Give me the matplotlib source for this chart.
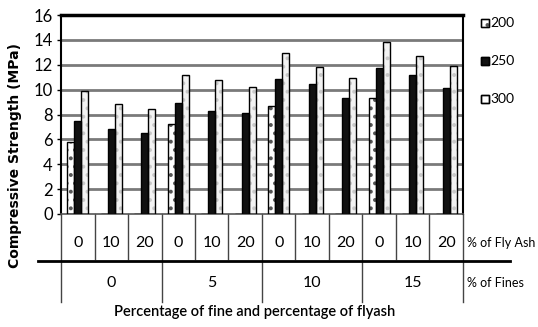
import numpy as np
import matplotlib.pyplot as plt
from matplotlib.patches import Rectangle

# data
fly_ash = ['0', '10', '20'] * 4
fines = ['0', '5', '10', '15']
s200 = [5.75, 0, 0, 7.2, 0, 0, 8.7, 0, 0, 9.35, 0, 0]
s250 = [7.5, 6.87, 6.5, 8.96, 8.25, 8.1, 10.88, 10.45, 9.36, 11.7, 11.2, 10.1]
s300 = [9.87, 8.85, 8.48, 11.18, 10.8, 10.22, 12.95, 11.78, 10.95, 13.8, 12.7, 11.87]
series = ['200', '250', '300']

plt.rcParams['font.family'] = ['Lato', 'DejaVu Sans']
plt.rcParams['hatch.linewidth'] = 1.6

W, H = 538, 327
fig = plt.figure(figsize=(W / 100, H / 100), dpi=100)
ax = fig.add_axes([61 / W, 1 - 214 / H, 402 / W, 199 / H])

x = np.arange(len(fly_ash))
bw = 0.21

# gridlines
for g in range(2, 16, 2):
    ax.axhline(g, color='#7a7a7a', lw=2.0, zorder=0)

# 200: white with dark dots
ax.bar(x - bw, s200, bw, color='white', edgecolor='#555555', hatch='..', lw=0, zorder=2)
ax.bar(x - bw, s200, bw, fill=False, edgecolor='black', lw=1.0, zorder=3)
# 250: black
ax.bar(x, s250, bw, color='#111111', edgecolor='black', lw=1.0, zorder=3)
# 300: light grey with light dots
ax.bar(x + bw, s300, bw, color='#f2f2f2', edgecolor='#c8c8c8', hatch='..', lw=0, zorder=2)
ax.bar(x + bw, s300, bw, fill=False, edgecolor='black', lw=1.0, zorder=3)

ax.set_xlim(-0.5, 11.5)
ax.set_ylim(0, 16)
ax.set_yticks(range(0, 17, 2))
ax.tick_params(axis='y', labelsize=12, length=3, width=1, pad=3)
ax.set_xticks([])
ax.spines['top'].set_linewidth(2.5)
ax.spines['left'].set_linewidth(1.5)
ax.spines['right'].set_linewidth(1.5)
ax.spines['bottom'].set_linewidth(1.2)
ax.spines['bottom'].set_color('#555555')

# two level category axis below the plot
tr = ax.get_xaxis_transform()
row_line = -0.236
for b in np.arange(-0.5, 12, 1):
    if (b + 0.5) % 3 == 0:
        ax.plot([b, b], [0, -0.44], color='#444444', lw=1, transform=tr, clip_on=False)
    else:
        ax.plot([b, b], [0, -0.225], color='#444444', lw=1, transform=tr, clip_on=False)
ax.plot([-1.2, 12.9], [row_line, row_line], color='black', lw=2, transform=tr, clip_on=False)
for i, lab in enumerate(fly_ash):
    ax.text(i, -0.146, lab, transform=tr, ha='center', va='center', fontsize=11.5)
for j, lab in enumerate(fines):
    ax.text(3 * j + 1, -0.347, lab, transform=tr, ha='center', va='center', fontsize=11.5)
fig.text(467 / W, 1 - 243 / H, '% of Fly Ash', ha='left', va='center', fontsize=9)
fig.text(467 / W, 1 - 283 / H, '% of Fines', ha='left', va='center', fontsize=9)

fig.text(255 / W, 1 - 312 / H, 'Percentage of fine and percentage of flyash',
         ha='center', va='center', fontsize=10.5, fontweight='semibold')
fig.text(15 / W, 1 - 155 / H, 'Compressive Strength (MPa)', rotation=90,
         ha='center', va='center', fontsize=10, fontweight='bold', family='DejaVu Sans')

# legend
styles = [dict(facecolor='white', hatch='..', edgecolor='#555555'),
          dict(facecolor='#111111', edgecolor='black'),
          dict(facecolor='white', edgecolor='black')]
for k, (name, st) in enumerate(zip(series, styles)):
    yc = 1 - (23 + 38 * k) / H
    fig.patches.append(Rectangle((481 / W, yc - 4 / H), 8 / W, 8 / H,
                                 transform=fig.transFigure, lw=1.0, **st))
    fig.patches.append(Rectangle((481 / W, yc - 4 / H), 8 / W, 8 / H, fill=False,
                                 edgecolor='black', transform=fig.transFigure, lw=1.0))
    fig.text(490 / W, yc, name, ha='left', va='center', fontsize=10)

fig.savefig('out.png', dpi=100)
